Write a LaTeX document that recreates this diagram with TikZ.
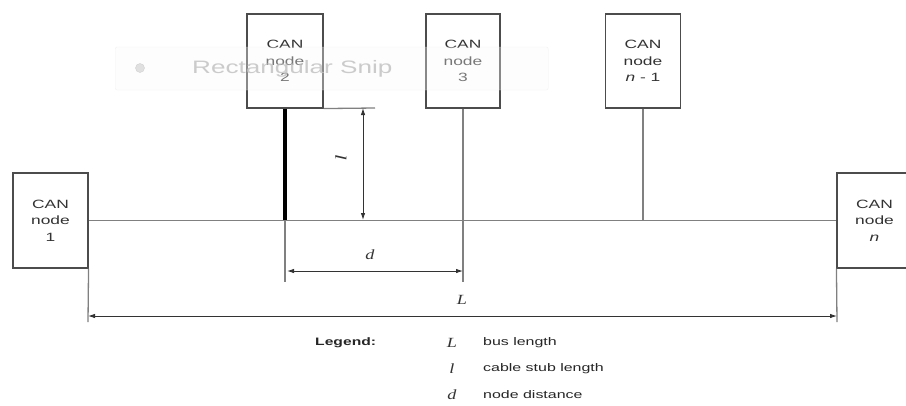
\documentclass[tikz,border=0pt]{standalone}
\usepackage{fontspec}
\setmainfont[FakeStretch=1.45]{Liberation Sans}
\newfontfamily\varfont[FakeStretch=1.3]{Liberation Serif}
\usetikzlibrary{arrows.meta}
\begin{document}
\begin{tikzpicture}[x=1pt,y=-1pt,
  canbox/.style={draw=black!70,line width=1.1pt,fill=white,minimum width=75pt,minimum height=95pt,
    align=center,font=\fontsize{12}{16.5}\selectfont,text=black!80,inner sep=0pt},
  wire/.style={draw=black!50,line width=1.3pt},
  dim/.style={draw=black!80,line width=0.9pt,{Latex[length=7pt,width=4.5pt]}-{Latex[length=7pt,width=4.5pt]}},
  var/.style={font=\varfont\itshape\fontsize{14}{16}\selectfont,text=black!80},
  legtext/.style={font=\fontsize{11}{13}\selectfont,text=black!85,anchor=west,inner sep=0pt}]
\useasboundingbox (0,0) rectangle (906,405);
\fill[white] (0,0) rectangle (906,405);
% nodes
\node[canbox,minimum width=75pt,minimum height=95pt] (n1) at (50.5,220.5) {CAN\\node\\1};
\node[canbox,minimum width=76pt,minimum height=94pt] (n2) at (285,61) {CAN\\node\\2};
\node[canbox,minimum width=74pt,minimum height=94pt] (n3) at (463,61) {CAN\\node\\3};
\node[canbox,minimum width=75pt,minimum height=94pt] (nm) at (643,61) {CAN\\node\\\textit{n} - 1};
\node[canbox,minimum width=75pt,minimum height=95pt] (nn) at (874.5,220.5) {CAN\\node\\\textit{n}};
% bus junction coordinates
\coordinate (b2) at (285,220);
\coordinate (b3) at (463,220);
\coordinate (bm) at (643,220);
\coordinate (e2) at (285,282);
\coordinate (e3) at (463,282);
\coordinate (e1) at (88,322);
\coordinate (en) at (837,322);
\coordinate (lx) at (375,108);
% bus and stubs
\draw[wire] (n1.east) -- (nn.west);
\draw[wire] (n3.south) -- (e3);
\draw[wire] (nm.south) -- (bm);
\draw[wire] (b2) -- (e2);
\draw[black,line width=3.2pt] (n2.south) -- (b2);
\draw[wire] (n1.south east) -- (e1);
\draw[wire] (nn.south west) -- (en);
\draw[wire] (n2.south east) -- (lx);
% dimensions
\coordinate (la) at (363,108);
\coordinate (lb) at (363,220);
\draw[dim] (la) -- (lb);
\node[var,rotate=-90,font=\varfont\itshape\fontsize{16}{18}\selectfont] (ll) at (341,157) {l};
\coordinate (da) at (287,271);
\coordinate (db) at (463,271);
\draw[dim] (da) -- (db);
\node[var] (dl) at (370,255) {d};
\coordinate (La) at (88,316);
\coordinate (Lb) at (837,316);
\draw[dim] (La) -- (Lb);
\node[var] (Ll) at (462,300) {L};
% legend
\node[legtext,font=\bfseries\fontsize{10.8}{13}\selectfont] (leg) at (315,343) {Legend:};
\node[var] (k1) at (452,343) {L};
\node[legtext] (t1) at (483,343) {bus length};
\node[var] (k2) at (452,369) {l};
\node[legtext] (t2) at (483,369) {cable stub length};
\node[var] (k3) at (452,395) {d};
\node[legtext] (t3) at (483,395) {node distance};
% screenshot overlay
\node[draw=black!8,fill=black!2,fill opacity=0.35,draw opacity=0.6,rounded corners=2pt,minimum width=433pt,minimum height=43pt,anchor=west] (snip) at (115,68.5) {};
\node[circle,fill=black!12,draw=black!18,minimum size=9pt,inner sep=0pt] (ico) at (140,68) {};
\node[anchor=west,text=black!25,text opacity=0.8,font=\fontsize{18}{22}\selectfont,inner sep=0pt] (snt) at (192,69) {Rectangular Snip};
\end{tikzpicture}
\end{document}
